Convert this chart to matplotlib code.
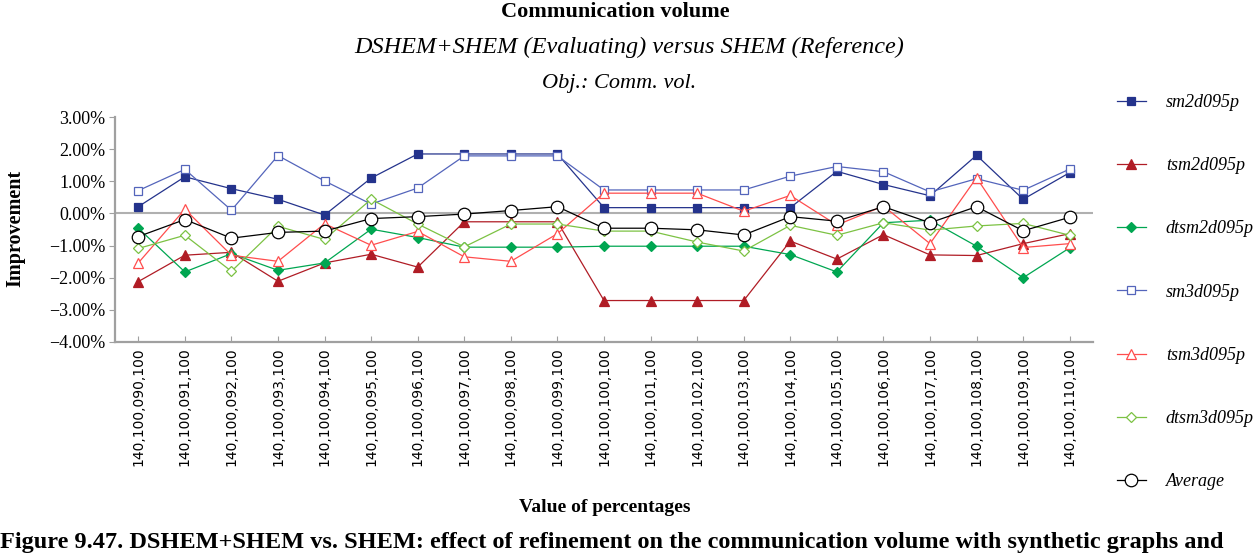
import matplotlib
matplotlib.use("Agg")
import matplotlib.pyplot as plt
from matplotlib.ticker import FuncFormatter

categories = ["140,100,%03d,100" % p for p in range(90, 111)]

sm2d095p = [0.21, 1.14, 0.77, 0.44, -0.05, 1.10, 1.85, 1.85, 1.85, 1.85, 0.18,
            0.18, 0.18, 0.18, 0.18, 1.31, 0.90, 0.55, 1.81, 0.44, 1.27]
tsm2d095p = [-2.12, -1.30, -1.21, -2.11, -1.54, -1.27, -1.67, -0.26, -0.26, -0.26, -2.71,
             -2.71, -2.71, -2.71, -0.86, -1.42, -0.66, -1.29, -1.31, -0.94, -0.63]
dtsm2d095p = [-0.46, -1.82, -1.25, -1.77, -1.54, -0.49, -0.75, -1.05, -1.05, -1.05, -1.02,
              -1.02, -1.02, -1.02, -1.28, -1.82, -0.29, -0.21, -1.02, -2.00, -1.07]
sm3d095p = [0.71, 1.37, 0.10, 1.80, 1.01, 0.29, 0.79, 1.79, 1.79, 1.79, 0.73,
            0.73, 0.73, 0.73, 1.16, 1.46, 1.30, 0.67, 1.08, 0.72, 1.38]
tsm3d095p = [-1.54, 0.13, -1.30, -1.49, -0.32, -0.99, -0.56, -1.35, -1.49, -0.63, 0.63,
             0.63, 0.63, 0.07, 0.56, -0.36, 0.23, -0.94, 1.11, -1.06, -0.94]
dtsm3d095p = [-1.09, -0.68, -1.80, -0.40, -0.81, 0.44, -0.33, -1.04, -0.33, -0.33, -0.55,
              -0.55, -0.89, -1.17, -0.37, -0.68, -0.29, -0.52, -0.39, -0.31, -0.68]
average = [-0.72, -0.19, -0.77, -0.59, -0.55, -0.16, -0.10, -0.02, 0.09, 0.21, -0.46,
           -0.46, -0.51, -0.67, -0.10, -0.24, 0.21, -0.29, 0.21, -0.54, -0.12]

series = [
    ("sm2d095p", sm2d095p, "#24338c", "s", "#24338c", 5.5),
    ("tsm2d095p", tsm2d095p, "#b01c25", "^", "#b01c25", 6.5),
    ("dtsm2d095p", dtsm2d095p, "#00a651", "D", "#00a651", 5.5),
    ("sm3d095p", sm3d095p, "#5465bb", "s", "white", 5.5),
    ("tsm3d095p", tsm3d095p, "#ff4d4d", "^", "white", 6.5),
    ("dtsm3d095p", dtsm3d095p, "#7cc243", "D", "white", 5.5),
    ("Average", average, "black", "o", "white", 9),
]

serif = "Liberation Serif"
W, H = 1258, 554
fig = plt.figure(figsize=(W / 100, H / 100), dpi=100)
ax = fig.add_axes([115 / W, 1 - 342 / H, (1093 - 115) / W, (342 - 117) / H])

x = list(range(len(categories)))
handles = []
for name, vals, col, mk, face, ms in series:
    h, = ax.plot(x, vals, color=col, lw=0.9, marker=mk, ms=ms,
                 markerfacecolor=face, markeredgecolor=col, markeredgewidth=0.9,
                 label=name, zorder=3)
    handles.append(h)

ax.axhline(0, color="#b0b0b0", lw=1.5, zorder=1)
ax.set_xlim(-0.5, len(categories) - 0.5)
ax.set_ylim(-4, 3)
ax.set_yticks(range(-4, 4))
ax.yaxis.set_major_formatter(FuncFormatter(lambda v, p: ("%.2f%%" % v).replace("-", "\u2212")))
ax.set_xticks(x)
ax.set_xticklabels(categories, rotation=90, fontsize=10, family="DejaVu Sans")
for lab in ax.get_yticklabels():
    lab.set_family(serif)
    lab.set_fontsize(13)

for s in ["top", "right"]:
    ax.spines[s].set_visible(False)
for s in ["left", "bottom"]:
    ax.spines[s].set_color("#a0a0a0")
    ax.spines[s].set_linewidth(1.6)
ax.tick_params(axis="y", direction="out", length=4, color="#a0a0a0", pad=3)
ax.tick_params(axis="x", direction="in", length=4, color="#a0a0a0", pad=4)

fig.text(615 / W, 1 - 12 / H, "Communication volume", ha="center", va="center",
         family=serif, fontweight="bold", fontsize=16)
fig.text(629 / W, 1 - 47 / H, "DSHEM+SHEM (Evaluating) versus SHEM (Reference)",
         ha="center", va="center", family=serif, style="italic", fontsize=17.5)
fig.text(619 / W, 1 - 84 / H, "Obj.: Comm. vol.", ha="center", va="center",
         family=serif, style="italic", fontsize=16)
fig.text(605 / W, 1 - 508 / H, "Value of percentages", ha="center", va="center",
         family=serif, fontweight="bold", fontsize=14)
fig.text(15 / W, 1 - 228 / H, "Improvement", ha="center", va="center", rotation=90,
         family=serif, fontweight="bold", fontsize=14.5)
fig.text(0, 1 / H, "Figure 9.47. DSHEM+SHEM vs. SHEM: effect of refinement on the "
         "communication volume with synthetic graphs and", ha="left", va="bottom",
         family=serif, fontweight="bold", fontsize=17.5)

fig.legend(handles=handles, loc="upper left", bbox_to_anchor=(1108 / W, 1 - 85 / H),
           frameon=False, prop={"family": serif, "style": "italic", "size": 13},
           labelspacing=2.56, handlelength=1.6, handletextpad=1.1, borderpad=0)

fig.savefig("out.png", dpi=100)
